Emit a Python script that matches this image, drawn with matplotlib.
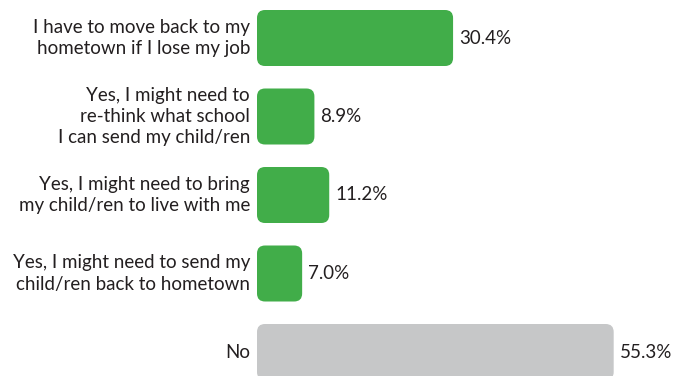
import matplotlib.pyplot as plt
from matplotlib.patches import FancyBboxPatch

labels = [
    "I have to move back to my\nhometown if I lose my job",
    "Yes, I might need to\nre-think what school\nI can send my child/ren",
    "Yes, I might need to bring\nmy child/ren to live with me",
    "Yes, I might need to send my\nchild/ren back to hometown",
    "No",
]
values = [30.4, 8.9, 11.2, 7.0, 55.3]
bar_colors = ["#41ad49", "#41ad49", "#41ad49", "#41ad49", "#c6c7c8"]

W, H = 690, 376
left_px = 257
px_per_x = 6.45      # pixels per percent
px_per_row = 78.5    # row spacing in pixels
top_px = 38          # centre of first row
bar_h = 56 / px_per_row

plt.rcParams['font.family'] = ['Lato', 'DejaVu Sans']
fig = plt.figure(figsize=(W / 100, H / 100), dpi=100)
ax = fig.add_axes([left_px / W, 0, (W - left_px) / W, 1])
ax.set_xlim(0, (W - left_px) / px_per_x)
ax.set_ylim((H - top_px) / px_per_row, -top_px / px_per_row)
ax.set_axis_off()

r = 8 / px_per_x
aspect = px_per_x / px_per_row
for i, (lab, v, c) in enumerate(zip(labels, values, bar_colors)):
    box = FancyBboxPatch((0, i - bar_h / 2), v, bar_h,
                         boxstyle=f"round,pad=0,rounding_size={r}",
                         mutation_aspect=aspect, fc=c, ec='none', clip_on=False)
    ax.add_patch(box)
    ax.text(v + 6 / px_per_x, i, f"{v:.1f}%", va='center', ha='left',
            fontsize=13.5, color='#231f20')
    ax.text(-7 / px_per_x, i, lab, va='center', ha='right', fontsize=13.5,
            color='#231f20', linespacing=1.3, clip_on=False)

fig.savefig("out.png", dpi=100)
